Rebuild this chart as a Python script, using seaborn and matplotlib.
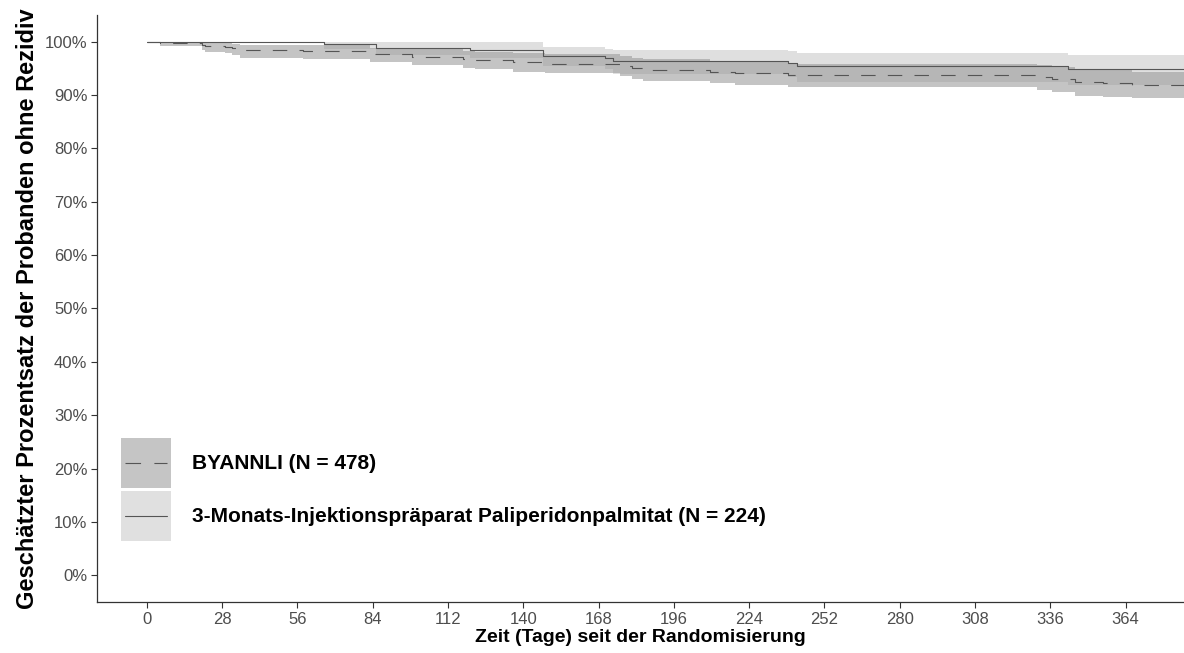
import numpy as np
import pandas as pd
import matplotlib
matplotlib.use("Agg")
import matplotlib.pyplot as plt
import seaborn as sns
from matplotlib.patches import Patch, Rectangle
from matplotlib.lines import Line2D
from matplotlib.legend_handler import HandlerBase

# =========================================
# DATA
# =========================================

# BYANNLI (N = 478), dashed line
byannli_days = [0, 4.9, 20.6, 21.7, 29.1, 31.7, 34.7, 58.1, 83.0, 98.6, 117.6,
                122.0, 136.2, 148.1, 176.0, 180.4, 184.5, 209.4, 218.7, 238.4,
                330.9, 336.5, 345.1, 355.5, 366.3, 392]
byannli_surv = [100, 99.8, 99.4, 99.2, 99.0, 98.8, 98.4, 98.2, 97.7, 97.2, 96.8,
                96.5, 96.1, 95.9, 95.5, 95.1, 94.7, 94.4, 94.1, 93.7, 93.3, 93.0,
                92.4, 92.2, 91.9, 91.9]
byannli_upper = [100, 100, 99.9, 99.8, 99.7, 99.6, 99.4, 99.3, 98.9, 98.6, 98.3,
                 98.1, 97.8, 97.6, 97.3, 97.0, 96.7, 96.4, 96.2, 95.9, 95.6, 95.3,
                 94.8, 94.6, 94.4, 94.4]
byannli_lower = [100, 99.1, 98.4, 98.1, 97.8, 97.5, 97.0, 96.8, 96.2, 95.6, 95.1,
                 94.8, 94.3, 94.1, 93.6, 93.1, 92.7, 92.3, 91.9, 91.5, 91.0, 90.6,
                 89.9, 89.7, 89.4, 89.4]

# 3-Monats-Injektionspraeparat Paliperidonpalmitat (N = 224), solid line
pp3m_days = [0, 65.9, 85.2, 120.2, 147.3, 170.4, 173.4, 238.4, 241.8, 342.5, 392]
pp3m_surv = [100, 99.5, 98.9, 98.5, 97.4, 96.9, 96.3, 96.0, 95.5, 94.9, 94.9]
pp3m_upper = [100, 100, 100, 100, 99.0, 98.7, 98.5, 98.2, 97.9, 97.5, 97.5]
pp3m_lower = [100, 98.6, 97.5, 96.9, 95.5, 94.8, 94.0, 93.4, 92.4, 91.8, 91.8]

labels = ["BYANNLI (N = 478)",
          "3-Monats-Injektionspräparat Paliperidonpalmitat (N = 224)"]

x_ticks = list(range(0, 365, 28))
y_ticks = list(range(0, 101, 10))

# =========================================
# STYLE
# =========================================

sns.set_theme(style="white")
plt.rcParams["font.family"] = ["Liberation Sans", "DejaVu Sans"]

line_col = "#555555"
fill_byannli = "#3e3e3e"
fill_pp3m = "#989898"
band_alpha = 0.3
dash_pat = (0, (13, 11))


# legend key: filled box with a line through its middle
class KeyHandler(HandlerBase):
    def create_artists(self, legend, orig_handle, xdescent, ydescent,
                       width, height, fontsize, trans):
        patch, line = orig_handle
        rect = Rectangle((-xdescent, -ydescent), width, height,
                         facecolor=patch.get_facecolor(), linewidth=0,
                         transform=trans)
        yc = -ydescent + height / 2
        ln = Line2D([-xdescent + 0.08 * width, -xdescent + 0.92 * width],
                    [yc, yc], color=line.get_color(),
                    linewidth=line.get_linewidth(), transform=trans)
        if line.get_linestyle() != "-":
            ln.set_linestyle((0, (14, 12)))
        return [rect, ln]


# =========================================
# PLOT
# =========================================

fig = plt.figure(figsize=(11.84, 6.53), dpi=100)
ax = fig.add_axes([97 / 1184, 51 / 653, 1 - 97 / 1184, 587 / 653])

ax.fill_between(byannli_days, byannli_lower, byannli_upper, step="post",
                color=fill_byannli, alpha=band_alpha, linewidth=0)
ax.fill_between(pp3m_days, pp3m_lower, pp3m_upper, step="post",
                color=fill_pp3m, alpha=band_alpha, linewidth=0)

sns.lineplot(x=byannli_days, y=byannli_surv, ax=ax, drawstyle="steps-post",
             estimator=None, color=line_col, linewidth=0.8,
             linestyle=dash_pat, legend=False)
sns.lineplot(x=pp3m_days, y=pp3m_surv, ax=ax, drawstyle="steps-post",
             estimator=None, color=line_col, linewidth=0.8, legend=False)

ax.set_xlim(-18.5, 385.7)
ax.set_ylim(-5, 105)
ax.set_xticks(x_ticks)
ax.set_yticks(y_ticks)
ax.set_yticklabels([f"{v}%" for v in y_ticks])

ax.tick_params(axis="both", which="both", direction="out", length=4,
               width=0.8, color="#333333", labelsize=12, labelcolor="#4d4d4d",
               left=True, bottom=True, pad=3)

for side in ["top", "right"]:
    ax.spines[side].set_visible(False)
for side in ["left", "bottom"]:
    ax.spines[side].set_color("#333333")
    ax.spines[side].set_linewidth(0.9)

ax.set_xlabel("Zeit (Tage) seit der Randomisierung", fontsize=14,
              fontweight="bold", color="black", labelpad=2)
ax.set_ylabel("Geschätzter Prozentsatz der Probanden ohne Rezidiv",
              fontsize=17, fontweight="bold", color="black", labelpad=4)

# =========================================
# LEGEND
# =========================================

# blend the key colours with white the same way the bands are blended
def blend(c):
    rgb = np.array(matplotlib.colors.to_rgb(c))
    return tuple(1 - band_alpha + band_alpha * rgb)

handles = [
    (Patch(facecolor=blend(fill_byannli)),
     Line2D([], [], color=line_col, linewidth=0.8, linestyle="--")),
    (Patch(facecolor=blend(fill_pp3m)),
     Line2D([], [], color=line_col, linewidth=0.8, linestyle="-")),
]

leg = ax.legend(handles, labels, loc="lower left",
                bbox_to_anchor=(0.022, 0.104), frameon=False,
                prop={"weight": "bold", "size": 15}, labelcolor="black",
                handler_map={tuple: KeyHandler()},
                handlelength=2.4, handleheight=3.3, handletextpad=1.0,
                labelspacing=0.15, borderpad=0, borderaxespad=0)

fig.savefig("out.png", dpi=100)
